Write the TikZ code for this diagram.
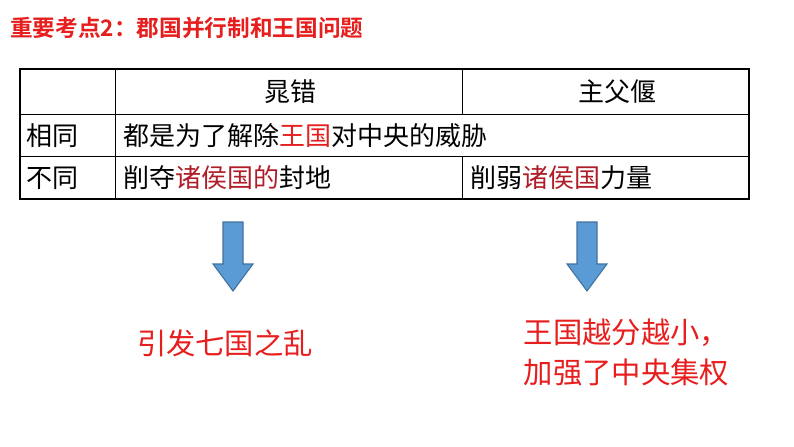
\documentclass[tikz,border=0pt]{standalone}
\usepackage{fontspec}
\newfontfamily\cjk{Noto Sans CJK SC}
\newfontfamily\cjkb{Noto Sans CJK SC Bold}
\definecolor{tred}{RGB}{230,30,30}
\definecolor{dred}{RGB}{175,30,40}
\definecolor{ablue}{RGB}{91,155,213}
\definecolor{aedge}{RGB}{65,113,156}
\begin{document}
\begin{tikzpicture}[x=0.75pt,y=-0.75pt,
  cell/.style={font=\cjk\fontsize{19.5}{22}\selectfont,anchor=west,inner sep=0},
  big/.style={font=\cjk\fontsize{22}{30}\selectfont,text=tred,align=left},
  arr/.style={fill=ablue,draw=aedge,line width=0.8pt}]
\useasboundingbox (0,0) rectangle (794,447);
\node[font=\cjkb\fontsize{17}{20}\selectfont,text=tred,anchor=west,inner sep=0] (title) at (10,28) {重要考点2：郡国并行制和王国问题};
\draw[line width=1.2pt] (20,69) rectangle (749,199);
\draw[line width=0.6pt] (20,114) -- (749,114) (20,156) -- (749,156)
  (115,69) -- (115,199) (462,69) -- (462,114) (462,156) -- (462,199);
\node[cell,anchor=center] (h1) at (290,92) {晁错};
\node[cell,anchor=center] (h2) at (617,92) {主父偃};
\node[cell] (r1) at (26,136) {相同};
\node[cell] (r2) at (26,178) {不同};
\node[cell] (c1) at (123,136) {都是为了解除\textcolor{tred}{王国}对中央的威胁};
\node[cell] (c2) at (123,178) {削夺\textcolor{dred}{诸侯国的}封地};
\node[cell] (c3) at (470,178) {削弱\textcolor{dred}{诸侯国}力量};
\draw[arr] (223,222) -- (243,222) -- (243,264) -- (253,264) -- (233,291) -- (213,264) -- (223,264) -- cycle;
\draw[arr] (577,222) -- (597,222) -- (597,264) -- (607,264) -- (587,291) -- (567,264) -- (577,264) -- cycle;
\node[big] (o1) at (225,343) {引发七国之乱};
\node[big,anchor=west] (o2) at (519,352) {王国越分越小，\\加强了中央集权};
\end{tikzpicture}
\end{document}
